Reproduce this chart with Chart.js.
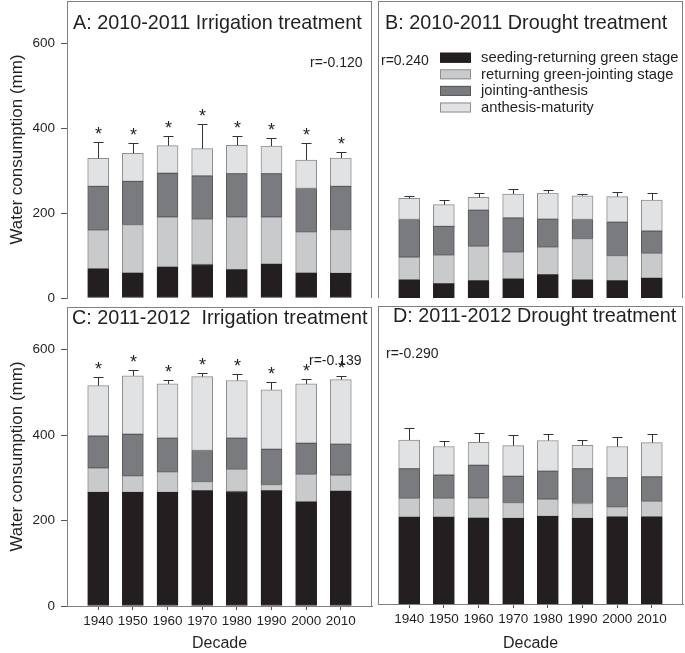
<!DOCTYPE html>
<html>
<head>
<meta charset="utf-8">
<script src="https://cdn.jsdelivr.net/npm/chart.js@4.4.0/dist/chart.umd.min.js"></script>
<style>
  html, body { margin: 0; padding: 0; background: #fff; }
  #wrap { position: relative; width: 685px; height: 653px; overflow: hidden; }
  canvas { position: absolute; }
</style>
</head>
<body>
<div id="wrap">
  <canvas id="chartA" width="375" height="308" style="left:0;top:0"></canvas>
  <canvas id="chartB" width="310" height="300" style="left:375px;top:0"></canvas>
  <canvas id="chartC" width="375" height="348" style="left:0;top:305px"></canvas>
  <canvas id="chartD" width="310" height="349" style="left:375px;top:304px"></canvas>
</div>
<script>
const decades = [1940, 1950, 1960, 1970, 1980, 1990, 2000, 2010];
const stageNames = ['seeding-returning green stage', 'returning green-jointing stage', 'jointing-anthesis', 'anthesis-maturity'];
const yTicks = [0, 200, 400, 600];

// A: 2010-2011 irrigation
const irr1011Seeding = [69, 59, 73, 79, 67, 80, 59, 58];
const irr1011Returning = [91, 114, 118, 107, 124, 111, 97, 103];
const irr1011Jointing = [103, 102, 103, 102, 102, 102, 102, 102];
const irr1011Anthesis = [66, 66, 65, 64, 67, 65, 67, 67];
const irr1011Err = [38, 25, 22, 58, 22, 19, 41, 14];

// B: 2010-2011 drought
const dro1011Seeding = [43, 34, 41, 45, 55, 43, 41, 47];
const dro1011Returning = [53, 67, 81, 63, 65, 97, 59, 58];
const dro1011Jointing = [89, 68, 85, 81, 66, 45, 79, 53];
const dro1011Anthesis = [50, 51, 30, 56, 61, 56, 60, 73];
const dro1011Err = [6, 12, 10, 13, 8, 5, 10, 16];

// C: 2011-2012 irrigation
const irr1112Seeding = [266, 266, 266, 270, 268, 270, 244, 269];
const irr1112Returning = [57, 39, 48, 21, 52, 14, 64, 37];
const irr1112Jointing = [75, 97, 79, 73, 73, 83, 73, 73];
const irr1112Anthesis = [118, 137, 127, 173, 135, 139, 139, 151];
const irr1112Err = [20, 14, 10, 9, 15, 19, 11, 8];

// D: 2011-2012 drought
const dro1112Seeding = [204, 204, 202, 201, 206, 201, 205, 205];
const dro1112Returning = [44, 44, 47, 37, 40, 35, 23, 36];
const dro1112Jointing = [70, 55, 77, 62, 66, 82, 69, 58];
const dro1112Anthesis = [67, 67, 54, 72, 72, 55, 73, 80];
const dro1112Err = [29, 12, 21, 24, 16, 13, 23, 20];

const FONT = 'Liberation Sans, Arial, Helvetica, sans-serif';
const TXT = '#231f20';
const FRAME = '#808080';
Chart.defaults.font.family = FONT;
Chart.defaults.color = TXT;

const fills = ['#231f20', '#c9cacc', '#7a7b7e', '#e1e2e4'];
const edges = ['#231f20', '#8e8f91', '#58595b', '#8e8f91'];

function stageSets(series) {
    return series.map((vals, k) => ({
        label: stageNames[k],
        data: decades.map((d, i) => ({ x: d, y: vals[i] })),
        backgroundColor: fills[k],
        borderColor: edges[k],
        borderWidth: 1,
        borderSkipped: false,
        barThickness: 21
    }));
}

// frame, error bars, asterisks, title, r label, legend
const panelPlugin = {
    id: 'panelExtras',
    afterDatasetsDraw(chart, args, o) {
        const ctx = chart.ctx;
        const a = chart.chartArea;
        const xs = chart.scales.x, ys = chart.scales.y;
        ctx.save();
        // frame
        ctx.strokeStyle = FRAME;
        ctx.lineWidth = 1;
        ctx.beginPath();
        if (o.sides.includes('top')) { ctx.moveTo(a.left, a.top + 0.5); ctx.lineTo(a.right, a.top + 0.5); }
        if (o.sides.includes('left')) { ctx.moveTo(a.left + 0.5, a.top); ctx.lineTo(a.left + 0.5, a.bottom); }
        if (o.sides.includes('right')) { ctx.moveTo(a.right - 0.5, a.top); ctx.lineTo(a.right - 0.5, a.bottom); }
        ctx.stroke();

        // error bars on stack totals
        const sets = chart.data.datasets;
        ctx.strokeStyle = '#333';
        decades.forEach((d, i) => {
            let total = 0;
            sets.forEach(s => { total += s.data[i].y; });
            const x = Math.round(xs.getPixelForValue(d)) + 0.5;
            const y0 = ys.getPixelForValue(total);
            const y1 = Math.round(ys.getPixelForValue(total + o.errors[i])) + 0.5;
            ctx.beginPath();
            ctx.moveTo(x, y0);
            ctx.lineTo(x, y1);
            ctx.moveTo(x - 5, y1);
            ctx.lineTo(x + 5, y1);
            ctx.stroke();
            if (o.stars) {
                ctx.fillStyle = TXT;
                ctx.font = '18px ' + FONT;
                ctx.textAlign = 'center';
                ctx.textBaseline = 'alphabetic';
                ctx.fillText('*', x, y1 - 3);
            }
        });

        // title and r value
        ctx.fillStyle = TXT;
        ctx.textAlign = 'left';
        ctx.textBaseline = 'alphabetic';
        ctx.font = '19.8px ' + FONT;
        ctx.fillText(o.title, o.titleX, o.titleY);
        ctx.font = '14px ' + FONT;
        ctx.fillText(o.r, o.rX, o.rY);

        // legend
        if (o.legend) {
            ctx.font = '14.8px ' + FONT;
            ctx.textBaseline = 'middle';
            sets.forEach((s, k) => {
                const cy = o.legend.y + k * 16.6;
                ctx.fillStyle = s.backgroundColor;
                ctx.fillRect(o.legend.x, cy - 5, 31, 10);
                ctx.strokeStyle = s.borderColor;
                ctx.strokeRect(o.legend.x + 0.5, cy - 4.5, 30, 9);
                ctx.fillStyle = TXT;
                ctx.fillText(s.label, o.legend.x + 41, cy + 0.5);
            });
        }
        ctx.restore();
    }
};

function makePanel(id, series, extras, showY, showX, padding, xHeight) {
    const ctx = document.getElementById(id).getContext('2d');
    return new Chart(ctx, {
        type: 'bar',
        data: { datasets: stageSets(series) },
        plugins: [panelPlugin],
        options: {
            responsive: false,
            animation: false,
            layout: { padding: padding },
            plugins: {
                legend: { display: false },
                tooltip: { enabled: false },
                panelExtras: extras
            },
            scales: {
                x: {
                    type: 'linear',
                    stacked: true,
                    offset: false,
                    min: 1931,
                    max: 2019,
                    display: showX,
                    afterBuildTicks: s => { s.ticks = decades.map(v => ({ value: v })); },
                    afterFit: s => {
                        if (showX && xHeight) s.height = xHeight;
                        s.paddingLeft = 0;
                        s.paddingRight = 0;
                    },
                    ticks: {
                        callback: v => String(v),
                        font: { size: 13.5 },
                        color: TXT,
                        padding: 3,
                        maxRotation: 0,
                        autoSkip: false
                    },
                    grid: { drawOnChartArea: false, offset: false, tickLength: 4, color: '#555' },
                    border: { color: FRAME },
                    title: { display: true, text: 'Decade', font: { size: 16 }, color: TXT, padding: { top: 4, bottom: 0 } }
                },
                y: {
                    stacked: true,
                    min: 0,
                    max: 700,
                    display: showY,
                    afterBuildTicks: s => { s.ticks = yTicks.map(v => ({ value: v })); },
                    afterFit: s => {
                        if (showY) s.width = 67;
                        s.paddingTop = 0;
                        s.paddingBottom = 0;
                    },
                    ticks: { font: { size: 13.5 }, color: TXT, padding: 6 },
                    grid: { drawOnChartArea: false, tickLength: 6, color: '#555' },
                    border: { color: FRAME },
                    title: { display: true, text: 'Water consumption (mm)', font: { size: 17 }, color: TXT, padding: { top: 7, bottom: 4 } }
                }
            }
        }
    });
}

makePanel('chartA', [irr1011Seeding, irr1011Returning, irr1011Jointing, irr1011Anthesis],
    { sides: ['top', 'right'], errors: irr1011Err, stars: true,
      title: 'A: 2010-2011 Irrigation treatment', titleX: 73, titleY: 29, r: 'r=-0.120', rX: 310, rY: 67 },
    true, false, { top: 1, right: 3, bottom: 10, left: 0 }, 0);

makePanel('chartB', [dro1011Seeding, dro1011Returning, dro1011Jointing, dro1011Anthesis],
    { sides: ['top', 'left', 'right'], errors: dro1011Err, stars: false,
      title: 'B: 2010-2011 Drought treatment', titleX: 10, titleY: 29, r: 'r=0.240', rX: 6, rY: 65,
      legend: { x: 65, y: 57.7 } },
    false, false, { top: 1, right: 2, bottom: 2, left: 3 }, 0);

makePanel('chartC', [irr1112Seeding, irr1112Returning, irr1112Jointing, irr1112Anthesis],
    { sides: ['top', 'right'], errors: irr1112Err, stars: true,
      title: 'C: 2011-2012  Irrigation treatment', titleX: 72, titleY: 19, r: 'r=-0.139', rX: 309, rY: 60 },
    true, true, { top: 2, right: 3, bottom: 0, left: 0 }, 47);

makePanel('chartD', [dro1112Seeding, dro1112Returning, dro1112Jointing, dro1112Anthesis],
    { sides: ['top', 'left', 'right'], errors: dro1112Err, stars: false,
      title: 'D: 2011-2012 Drought treatment', titleX: 18, titleY: 18, r: 'r=-0.290', rX: 11, rY: 54 },
    false, true, { top: 2, right: 2, bottom: 0, left: 3 }, 49);
</script>
</body>
</html>
